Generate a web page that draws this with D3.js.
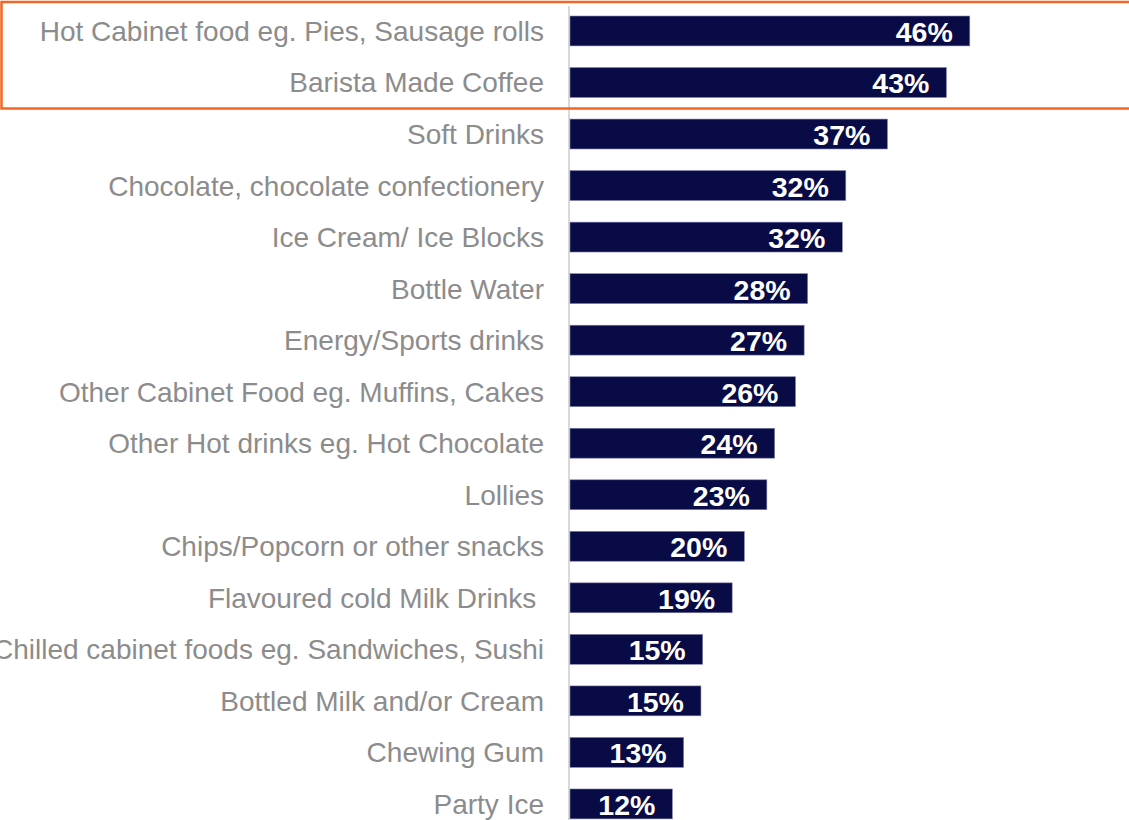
<!DOCTYPE html>
<html>
<head>
<meta charset="utf-8">
<script src="https://cdn.jsdelivr.net/npm/d3@7"></script>
<style>
  html, body { margin: 0; padding: 0; background: #ffffff; }
  svg { display: block; }
</style>
</head>
<body>
<svg id="chart" width="1129" height="820"></svg>
<script>
const categories = [
  "Hot Cabinet food eg. Pies, Sausage rolls",
  "Barista Made Coffee",
  "Soft Drinks",
  "Chocolate, chocolate confectionery",
  "Ice Cream/ Ice Blocks",
  "Bottle Water",
  "Energy/Sports drinks",
  "Other Cabinet Food eg. Muffins, Cakes",
  "Other Hot drinks eg. Hot Chocolate",
  "Lollies",
  "Chips/Popcorn or other snacks",
  "Flavoured cold Milk Drinks ",
  "Chilled cabinet foods eg. Sandwiches, Sushi",
  "Bottled Milk and/or Cream",
  "Chewing Gum",
  "Party Ice"
];
const values = [46.1, 43.4, 36.6, 31.8, 31.4, 27.4, 27.0, 26.0, 23.6, 22.7, 20.1, 18.7, 15.3, 15.1, 13.1, 11.8];
const valueLabels = ["46%", "43%", "37%", "32%", "32%", "28%", "27%", "26%", "24%", "23%", "20%", "19%", "15%", "15%", "13%", "12%"];

const svg = d3.select("#chart");
const x0 = 570;
const x = d3.scaleLinear().domain([0, 1]).range([x0, x0 + 8.672]);
const y = d3.scaleBand().domain(categories).range([5.2, 829.7]).paddingInner(0.42).paddingOuter(0.21);

// vertical axis line
svg.append("line")
  .attr("x1", x0 - 1).attr("x2", x0 - 1)
  .attr("y1", 6).attr("y2", 820)
  .attr("stroke", "#d9d9d9").attr("stroke-width", 2);

// bars
svg.selectAll("rect.bar").data(categories).enter().append("rect")
  .attr("class", "bar")
  .attr("x", x(0))
  .attr("y", d => y(d))
  .attr("width", (d, i) => x(values[i]) - x(0))
  .attr("height", y.bandwidth())
  .attr("fill", "#080B45")
  .attr("stroke", "#7e80a8")
  .attr("stroke-width", 0.6);

// value labels
svg.selectAll("text.val").data(categories).enter().append("text")
  .attr("class", "val")
  .attr("x", (d, i) => x(values[i]) - 17)
  .attr("y", d => y(d) + y.bandwidth() / 2 + 11)
  .attr("text-anchor", "end")
  .attr("font-family", "Liberation Sans, Arial, sans-serif")
  .attr("font-weight", "bold")
  .attr("font-size", 28.5)
  .attr("fill", "#ffffff")
  .text((d, i) => valueLabels[i]);

// category labels
svg.selectAll("text.cat").data(categories).enter().append("text")
  .attr("class", "cat")
  .attr("x", 544)
  .attr("y", d => y(d) + y.bandwidth() / 2 + 10)
  .attr("text-anchor", "end")
  .style("white-space", "pre")
  .attr("font-family", "Liberation Sans, Arial, sans-serif")
  .attr("font-size", 28)
  .attr("fill", "#8c8c8c")
  .text(d => d);

// orange highlight box
svg.append("rect")
  .attr("x", 1.5).attr("y", 2)
  .attr("width", 1140).attr("height", 106.5)
  .attr("fill", "none")
  .attr("stroke", "#F26522")
  .attr("stroke-width", 2.5);
</script>
</body>
</html>
